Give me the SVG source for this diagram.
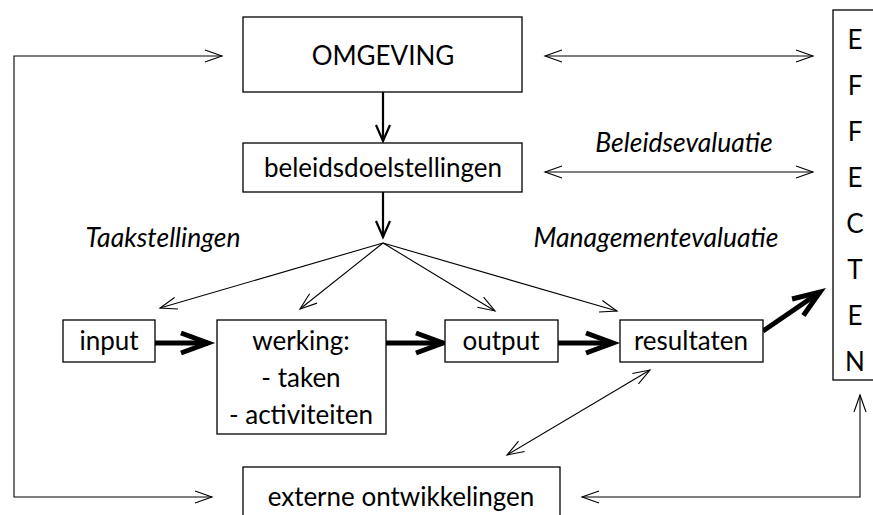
<svg xmlns="http://www.w3.org/2000/svg" width="873" height="515" viewBox="0 0 873 515">
<style>
.box{fill:#fff;stroke:#000;stroke-width:1.3}
.t{font-family:Lato,"Open Sans","Liberation Sans",sans-serif;font-size:26px;fill:#000;text-anchor:middle}
.i{font-style:italic;font-size:26.5px}
.thin{fill:none;stroke:#000;stroke-width:1.1}
.med{fill:none;stroke:#000;stroke-width:2.2}
.thick{fill:none;stroke:#000;stroke-width:5}
</style>
<defs>
<marker id="mt" markerUnits="userSpaceOnUse" markerWidth="22" markerHeight="16" refX="19" refY="8" orient="auto-start-reverse" overflow="visible">
<path d="M2,2 L19,8 L2,14" fill="none" stroke="#000" stroke-width="1.1"/>
</marker>
<marker id="mm" markerUnits="userSpaceOnUse" markerWidth="22" markerHeight="20" refX="18" refY="10" orient="auto" overflow="visible">
<path d="M2,3 L18,10 L2,17" fill="none" stroke="#000" stroke-width="2.2"/>
</marker>
<marker id="mk" markerUnits="userSpaceOnUse" markerWidth="34" markerHeight="26" refX="30" refY="13" orient="auto" overflow="visible">
<path d="M3,3 L30,13 L3,23" fill="none" stroke="#000" stroke-width="5" stroke-linejoin="miter"/>
</marker>
</defs>
<g id="connectors">
<line class="med" x1="383" y1="92" x2="383" y2="141" marker-end="url(#mm)"/>
<line class="med" x1="383" y1="192" x2="383" y2="237" marker-end="url(#mm)"/>
<line class="thin" x1="383" y1="243" x2="160" y2="308" marker-end="url(#mt)"/>
<line class="thin" x1="383" y1="243" x2="300" y2="309" marker-end="url(#mt)"/>
<line class="thin" x1="383" y1="243" x2="495" y2="311" marker-end="url(#mt)"/>
<line class="thin" x1="383" y1="243" x2="617" y2="311" marker-end="url(#mt)"/>
<line class="thin" x1="545" y1="56" x2="813" y2="56" marker-start="url(#mt)" marker-end="url(#mt)"/>
<line class="thin" x1="545" y1="172" x2="813" y2="172" marker-start="url(#mt)" marker-end="url(#mt)"/>
<line class="thick" x1="155" y1="343" x2="208" y2="343" marker-end="url(#mk)"/>
<line class="thick" x1="386" y1="343" x2="443" y2="343" marker-end="url(#mk)"/>
<line class="thick" x1="558" y1="343" x2="613" y2="343" marker-end="url(#mk)"/>
<line class="thick" x1="763" y1="331" x2="820" y2="292" marker-end="url(#mk)"/>
<path class="thin" d="M222,56 H14 V497 H212" marker-start="url(#mt)" marker-end="url(#mt)"/>
<path class="thin" d="M582,497 H860 V395" marker-start="url(#mt)" marker-end="url(#mt)"/>
<line class="thin" x1="650" y1="370" x2="507" y2="455" marker-start="url(#mt)" marker-end="url(#mt)"/>
</g>
<g id="omgeving"><rect class="box" x="243" y="17" width="279" height="75"/><text class="t" x="383" y="65">OMGEVING</text></g>
<g id="beleidsdoelstellingen"><rect class="box" x="243" y="143" width="279" height="49"/><text class="t" x="383" y="177">beleidsdoelstellingen</text></g>
<g id="input"><rect class="box" x="63" y="320" width="92" height="42"/><text class="t" x="109" y="350">input</text></g>
<g id="werking"><rect class="box" x="217" y="320" width="169" height="114"/><text class="t" x="301" y="350">werking:</text><text class="t" x="301" y="387">- taken</text><text class="t" x="301" y="424">- activiteiten</text></g>
<g id="output"><rect class="box" x="445" y="320" width="113" height="42"/><text class="t" x="501" y="350">output</text></g>
<g id="resultaten"><rect class="box" x="620" y="320" width="143" height="42"/><text class="t" x="691" y="350">resultaten</text></g>
<g id="effecten"><rect class="box" x="833" y="10" width="45" height="370"/>
<text class="t" x="855" y="49">E</text><text class="t" x="855" y="95">F</text><text class="t" x="855" y="141">F</text><text class="t" x="855" y="187">E</text><text class="t" x="855" y="233">C</text><text class="t" x="855" y="279">T</text><text class="t" x="855" y="325">E</text><text class="t" x="855" y="371">N</text></g>
<g id="externe"><rect class="box" x="243" y="467" width="317" height="60"/><text class="t" x="401" y="506">externe ontwikkelingen</text></g>
<g id="labels">
<text class="t i" x="684" y="152">Beleidsevaluatie</text>
<text class="t i" x="656" y="247">Managementevaluatie</text>
<text class="t i" x="163" y="247">Taakstellingen</text>
</g>
</svg>
